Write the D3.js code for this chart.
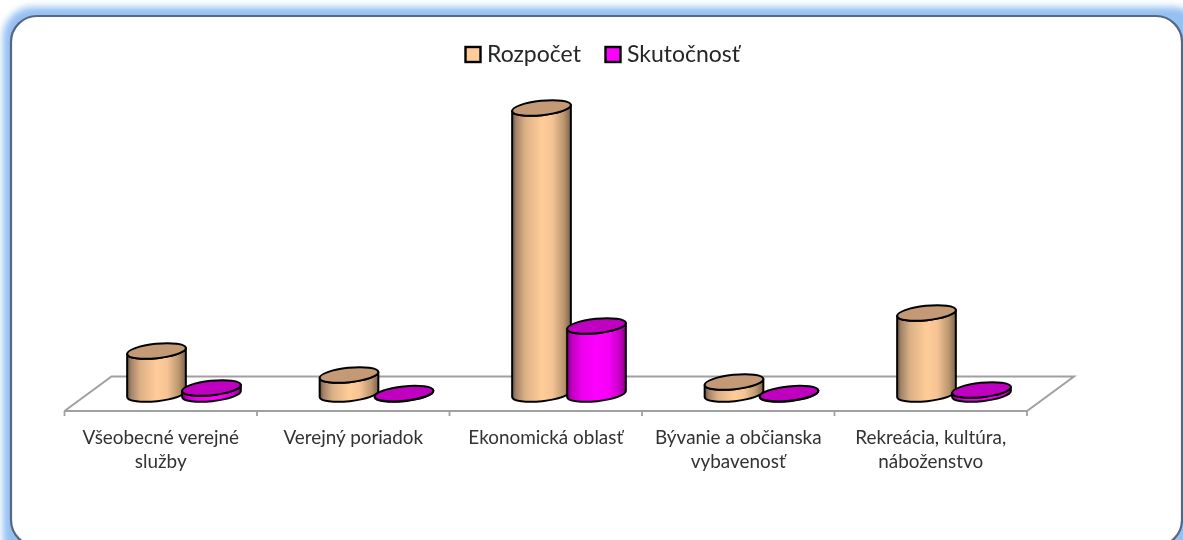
<!DOCTYPE html>
<html><head><meta charset="utf-8">
<script src="https://cdn.jsdelivr.net/npm/d3@7/dist/d3.min.js"></script>
<style>html,body{margin:0;padding:0;background:#fff;overflow:hidden}svg{display:block}text{font-family:Lato,"Open Sans",sans-serif}</style>
</head><body><svg id="c" width="1183" height="540"></svg>
<script>
const categories = [["Všeobecné verejné","služby"],["Verejný poriadok"],["Ekonomická oblasť"],["Bývanie a občianska","vybavenosť"],["Rekreácia, kultúra,","náboženstvo"]];
const series = ["Rozpočet","Skutočnosť"];
const rozpocet = [43,19,286,12,81];
const skutocnost = [6,0.4,68,0.4,4];
const svg=d3.select("#c");
const defs=svg.append("defs");
const f=defs.append("filter").attr("id","glow").attr("filterUnits","userSpaceOnUse").attr("x",-30).attr("y",-30).attr("width",1300).attr("height",640);
f.append("feGaussianBlur").attr("stdDeviation",3.6);
const soft=defs.append("filter").attr("id","soft").attr("filterUnits","userSpaceOnUse").attr("x",0).attr("y",0).attr("width",1183).attr("height",540);
soft.append("feGaussianBlur").attr("stdDeviation",0.6);
function grad(id,stops){const g=defs.append("linearGradient").attr("id",id);stops.forEach(s=>g.append("stop").attr("offset",s[0]).attr("stop-color",s[1]));}
grad("gR",[[0,"#6e5640"],[0.07,"#a5846a"],[0.22,"#dcb086"],[0.5,"#ffcc99"],[0.68,"#f6c494"],[0.88,"#bb966f"],[1,"#7d6249"]]);
grad("gS",[[0,"#800080"],[0.08,"#c000c0"],[0.25,"#ee00ee"],[0.5,"#ff00ff"],[0.72,"#f400f4"],[0.9,"#c400c4"],[1,"#800080"]]);
const colors={Rozpočet:{side:"url(#gR)",top:"#c49a76",key:"#ffcc99"},Skutočnosť:{side:"url(#gS)",top:"#c000c0",key:"#ff00ff"}};

// frame
svg.append("rect").attr("x",3).attr("y",7).attr("width",1200).attr("height",560).attr("rx",30)
  .attr("fill","#94c0f2").attr("filter","url(#glow)");
svg.append("rect").attr("x",11).attr("y",16).attr("width",1171).attr("height",530).attr("rx",26)
  .attr("fill","#fff").attr("stroke","#56677f").attr("stroke-width",2.2);

const root=svg.append("g").attr("filter","url(#soft)");

// scales
const x0=d3.scaleBand().domain(d3.range(categories.length)).range([64.5,1027]);
const x1=d3.scaleBand().domain(series).range([64.5,174.5]);
const y=d3.scaleLinear().domain([0,286]).range([394,108]);

// floor
const front=411,back=376.5,skew=47;
root.append("path").attr("fill","none").attr("stroke","#a0a0a0").attr("stroke-width",2)
  .attr("d",d3.line()([[x0.range()[0],front],[x0.range()[0]+skew,back],[x0.range()[1]+skew,back],[x0.range()[1],front],[x0.range()[0],front]]));
root.selectAll(".tick").data(d3.range(categories.length+1)).join("line")
  .attr("x1",i=>x0.range()[0]+i*x0.step()).attr("x2",i=>x0.range()[0]+i*x0.step())
  .attr("y1",front).attr("y2",front+5).attr("stroke","#a0a0a0").attr("stroke-width",1.8);

// labels
const lab=root.selectAll(".lab").data(categories).join("text").attr("text-anchor","middle")
  .attr("font-size",18.9).attr("fill","#333");
lab.each(function(d,i){d3.select(this).selectAll("tspan").data(d).join("tspan")
  .attr("x",x0(i)+x0.bandwidth()/2).attr("y",(_,j)=>443.5+j*24).text(t=>t);});

// cylinders
const rx=29.5,ry=7.2,rot=-6,dx=rx*Math.cos(rot*Math.PI/180),dy=-rx*Math.sin(rot*Math.PI/180);
function cyl(cx,top,bot,c){
  const g=root.append("g");
  g.append("path").attr("fill",c.side).attr("stroke","#000").attr("stroke-width",2).attr("stroke-linejoin","round")
   .attr("d",`M${cx-dx},${top+dy}L${cx-dx},${bot+dy}A${rx},${ry} ${rot} 0 0 ${cx+dx},${bot-dy}L${cx+dx},${top-dy}A${rx},${ry} ${rot} 0 1 ${cx-dx},${top+dy}Z`);
  g.append("ellipse").attr("rx",rx).attr("ry",ry).attr("transform",`translate(${cx},${top}) rotate(${rot})`)
   .attr("fill",c.top).attr("stroke","#000").attr("stroke-width",2);
}
categories.forEach((_,i)=>{
  [rozpocet,skutocnost].forEach((vals,k)=>{
    const s=series[k];
    cyl(x0(i)+x1(s)+x1.bandwidth()/2,y(vals[i]),y(0),colors[s]);
  });
});

// legend
const legendX=[465.5,605.5];
series.forEach((s,i)=>{
  root.append("rect").attr("x",legendX[i]).attr("y",47).attr("width",15).attr("height",15)
    .attr("fill",colors[s].key).attr("stroke","#000").attr("stroke-width",2.4);
  root.append("text").attr("x",legendX[i]+21.5).attr("y",61.5).attr("font-size",23).attr("fill","#262626").text(s);
});
</script></body></html>
